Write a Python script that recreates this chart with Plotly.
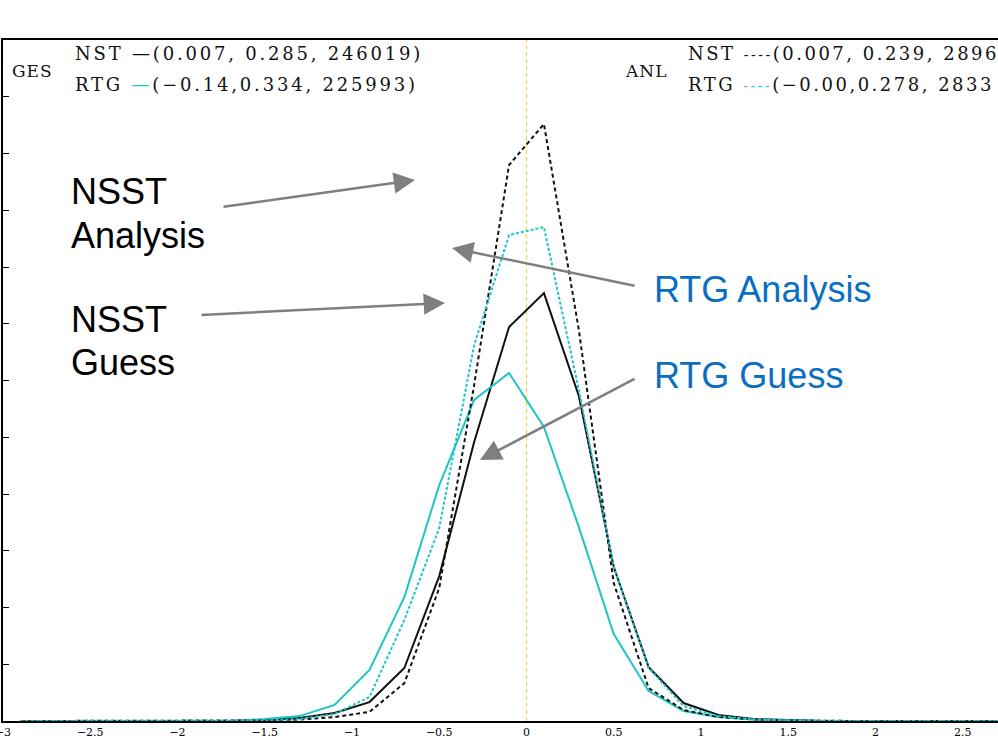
import plotly.graph_objects as go

# bin centres
x_bins = [-2.9, -2.7, -2.5, -2.3, -2.1, -1.9, -1.7, -1.5, -1.3, -1.1, -0.9, -0.7, -0.5, -0.3, -0.1,
          0.1, 0.3, 0.5, 0.7, 0.9, 1.1, 1.3, 1.5, 1.7, 1.9, 2.1, 2.3, 2.5, 2.7, 2.9]

nsst_ges = [0, 0, 0, 0, 0, 0, 0, 0.05, 0.16, 0.42, 1.0, 2.8, 7.66, 14.75, 20.83,
            22.62, 17.18, 8.14, 2.85, 0.95, 0.32, 0.1, 0.05, 0, 0, 0, 0, 0, 0, 0]
rtg_ges = [0, 0, 0, 0, 0, 0, 0, 0.1, 0.26, 0.85, 2.7, 6.55, 12.47, 16.97, 18.4,
           15.54, 10.25, 4.6, 1.59, 0.53, 0.21, 0.08, 0.03, 0, 0, 0, 0, 0, 0, 0]
nsst_anl = [0, 0, 0, 0, 0, 0, 0, 0.03, 0.08, 0.21, 0.48, 2.0, 7.03, 17.76, 29.39,
            31.56, 20.67, 7.29, 1.74, 0.58, 0.21, 0.08, 0.03, 0, 0, 0, 0, 0, 0, 0]
rtg_anl = [0, 0, 0, 0, 0, 0, 0, 0.03, 0.1, 0.37, 1.27, 5.34, 10.2, 19.87, 25.69,
           26.11, 17.5, 8.14, 2.8, 0.79, 0.26, 0.08, 0.03, 0, 0, 0, 0, 0, 0, 0]

x_ticks = [-3, -2.5, -2, -1.5, -1, -0.5, 0, 0.5, 1, 1.5, 2, 2.5, 3]
x_tick_text = ["−3", "−2.5", "−2", "−1.5", "−1", "−0.5", "0", "0.5", "1", "1.5", "2", "2.5", "3"]
y_ticks = [0, 3, 6, 9, 12, 15, 18, 21, 24, 27, 30, 33, 36]

# legend statistics as visible in the (cropped) reference
ges_nst_stats = "(0.007, 0.285, 246019)"
ges_rtg_stats = "(−0.14,0.334, 225993)"
anl_nst_stats = "(0.007, 0.239, 2896"
anl_rtg_stats = "(−0.00,0.278, 2833"

BLACK = "#111111"
CYAN = "#1cc6c6"
BLUE = "#0a6fc2"
GRAY = "#7f7f7f"

fig = go.Figure()
fig.add_trace(go.Scatter(x=x_bins, y=nsst_ges, mode="lines", name="NST GES",
                         line=dict(color=BLACK, width=2), cliponaxis=False))
fig.add_trace(go.Scatter(x=x_bins, y=rtg_ges, mode="lines", name="RTG GES",
                         line=dict(color=CYAN, width=2), cliponaxis=False))
fig.add_trace(go.Scatter(x=x_bins, y=nsst_anl, mode="lines", name="NST ANL",
                         line=dict(color=BLACK, width=2, dash="4px,3px"), cliponaxis=False))
fig.add_trace(go.Scatter(x=x_bins, y=rtg_anl, mode="lines", name="RTG ANL",
                         line=dict(color=CYAN, width=2, dash="3px,2px"), cliponaxis=False))

# zero reference line
fig.add_shape(type="line", xref="x", yref="paper", x0=0, x1=0, y0=0, y1=1,
              line=dict(color="#f0d23c", width=1.2, dash="4px,3px"), layer="below")

L, T, W, H = 3, 40, 995, 681


def px(xp):
    return (xp - L) / W


def py(yp):
    return (T + H - yp) / H


def spaced(s, sp):
    return "<span style='letter-spacing:%spx'>%s</span>" % (sp, s)


anns = []
serif = dict(family="DejaVu Serif", size=18, color="#111111")
anns.append(dict(x=px(10), y=py(71), text=spaced("GES", 1), font=dict(family="DejaVu Serif", size=17, color="#111111")))
anns.append(dict(x=px(73), y=py(53),
                 text=spaced("NST <span style='color:#111111'>—</span>" + ges_nst_stats, 2.8), font=serif))
anns.append(dict(x=px(73), y=py(85),
                 text=spaced("RTG <span style='color:%s'>—</span>" % CYAN + ges_rtg_stats, 2.8), font=serif))
anns.append(dict(x=px(623), y=py(71), text=spaced("ANL", 1), font=dict(family="DejaVu Serif", size=17, color="#111111")))
anns.append(dict(x=px(686), y=py(53),
                 text=spaced("NST <span style='font-size:14px'>----</span>" + anl_nst_stats, 2.5), font=serif))
anns.append(dict(x=px(686), y=py(85),
                 text=spaced("RTG <span style='font-size:14px;color:%s'>----</span>" % CYAN + anl_rtg_stats, 2.5),
                 font=serif))

sans_black = dict(family="Liberation Sans", size=36, color="#000000")
sans_blue = dict(family="Liberation Sans", size=36, color=BLUE)
anns.append(dict(x=px(69), y=py(192), text="NSST", font=sans_black))
anns.append(dict(x=px(69), y=py(235), text="Analysis", font=sans_black))
anns.append(dict(x=px(69), y=py(319), text="NSST", font=sans_black))
anns.append(dict(x=px(69), y=py(362), text="Guess", font=sans_black))
anns.append(dict(x=px(652), y=py(289), text="RTG Analysis", font=sans_blue))
anns.append(dict(x=px(652), y=py(376), text="RTG Guess", font=sans_blue))

for a in anns:
    a.update(xref="paper", yref="paper", xanchor="left", yanchor="middle", showarrow=False)

arrows = [((415, 180), (222, 207)),
          ((452, 248), (636, 286)),
          ((445, 303), (200, 315)),
          ((480, 460), (636, 378))]
for (tx, ty), (sx, sy) in arrows:
    anns.append(dict(x=px(tx), y=py(ty), xref="paper", yref="paper", text="",
                     showarrow=True, ax=sx - tx, ay=sy - ty, axref="pixel", ayref="pixel",
                     arrowhead=2, arrowsize=1.7, arrowwidth=2.5, arrowcolor=GRAY,
                     standoff=0, startstandoff=0))

fig.update_layout(
    width=998, height=739,
    margin=dict(l=L, r=0, t=T, b=739 - T - H, pad=0, autoexpand=False),
    paper_bgcolor="white", plot_bgcolor="white",
    showlegend=False,
    annotations=anns,
    xaxis=dict(range=[-3, -3 + W / 174.5], tickvals=x_ticks, ticktext=x_tick_text,
               ticklabeloverflow="allow", automargin=False,
               showgrid=False, zeroline=False, showline=True, linecolor="#000000", linewidth=2,
               mirror=True, ticks="", tickfont=dict(family="DejaVu Serif", size=11, color="#000000")),
    yaxis=dict(range=[0, 36], tickvals=y_ticks, showticklabels=False, automargin=False,
               showgrid=False, zeroline=False, showline=True, linecolor="#000000", linewidth=2,
               mirror=False, ticks="inside", ticklen=6, tickwidth=1, tickcolor="#000000"),
)

fig.write_html("out.html")
